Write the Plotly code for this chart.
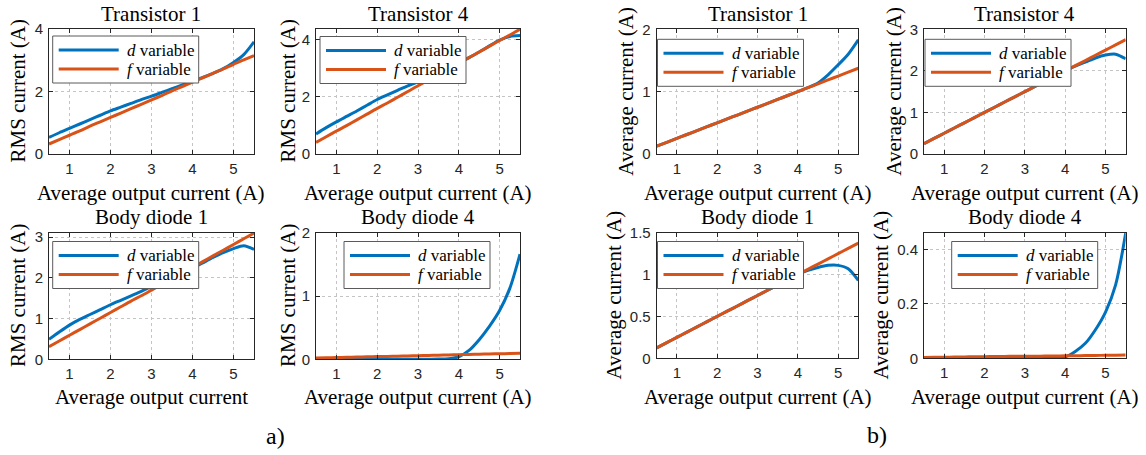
import plotly.graph_objects as go

W, H = 1146, 455

# ---------------- data ----------------
x_out = [0.5, 0.75, 1.0, 1.25, 1.5, 1.75, 2.0, 2.25, 2.5, 2.75, 3.0,
         3.25, 3.5, 3.75, 4.0, 4.25, 4.5, 4.75, 5.0, 5.25, 5.5]

# a) RMS currents
rms_t1_d = [0.53, 0.68, 0.82, 0.96, 1.10, 1.24, 1.38, 1.50, 1.62, 1.74, 1.85,
            1.97, 2.09, 2.21, 2.33, 2.45, 2.58, 2.73, 2.93, 3.18, 3.59]
rms_t1_f = [0.32, 0.46, 0.60, 0.74, 0.89, 1.03, 1.17, 1.31, 1.45, 1.59, 1.73,
            1.87, 2.02, 2.16, 2.30, 2.44, 2.58, 2.72, 2.87, 3.01, 3.15]
rms_t4_d = [0.70, 0.92, 1.12, 1.31, 1.50, 1.70, 1.90, 2.06, 2.22, 2.38, 2.52,
            2.64, 2.80, 2.98, 3.17, 3.36, 3.56, 3.77, 3.97, 4.10, 4.13]
rms_t4_f = [0.40, 0.60, 0.80, 0.99, 1.19, 1.39, 1.59, 1.78, 1.98, 2.18, 2.38,
            2.57, 2.77, 2.97, 3.17, 3.36, 3.56, 3.76, 3.96, 4.15, 4.35]
rms_bd1_d = [0.49, 0.67, 0.84, 0.98, 1.10, 1.22, 1.34, 1.45, 1.56, 1.67, 1.79,
             1.90, 2.02, 2.13, 2.24, 2.37, 2.50, 2.62, 2.72, 2.79, 2.70]
rms_bd1_f = [0.31, 0.45, 0.59, 0.73, 0.87, 1.01, 1.15, 1.29, 1.43, 1.56, 1.70,
             1.84, 1.98, 2.12, 2.26, 2.40, 2.54, 2.68, 2.82, 2.96, 3.10]
rms_bd4_d = [0.002, 0.002, 0.002, 0.002, 0.002, 0.002, 0.002, 0.002, 0.002, 0.002, 0.002,
             0.002, 0.003, 0.010, 0.040, 0.140, 0.310, 0.520, 0.770, 1.120, 1.660]
rms_bd4_f = [0.020, 0.024, 0.028, 0.031, 0.035, 0.039, 0.043, 0.046, 0.050, 0.054, 0.058,
             0.061, 0.065, 0.069, 0.073, 0.076, 0.080, 0.084, 0.088, 0.091, 0.095]

# b) average currents
avg_t1_d = [0.125, 0.188, 0.250, 0.313, 0.375, 0.438, 0.500, 0.563, 0.625, 0.688, 0.750,
            0.813, 0.875, 0.938, 1.000, 1.065, 1.140, 1.270, 1.430, 1.600, 1.830]
avg_t1_f = [0.125, 0.188, 0.250, 0.313, 0.375, 0.438, 0.500, 0.563, 0.625, 0.688, 0.750,
            0.813, 0.875, 0.938, 1.000, 1.063, 1.125, 1.188, 1.250, 1.313, 1.375]
avg_t4_d = [0.250, 0.375, 0.500, 0.625, 0.750, 0.875, 1.000, 1.125, 1.250, 1.375, 1.500,
            1.625, 1.750, 1.875, 2.000, 2.115, 2.210, 2.310, 2.380, 2.400, 2.290]
avg_t4_f = [0.250, 0.375, 0.500, 0.625, 0.750, 0.875, 1.000, 1.125, 1.250, 1.375, 1.500,
            1.625, 1.750, 1.875, 2.000, 2.125, 2.250, 2.375, 2.500, 2.625, 2.750]
avg_bd1_d = [0.125, 0.188, 0.250, 0.313, 0.375, 0.438, 0.500, 0.563, 0.625, 0.688, 0.750,
             0.813, 0.875, 0.938, 1.000, 1.050, 1.085, 1.110, 1.110, 1.070, 0.930]
avg_bd1_f = [0.125, 0.188, 0.250, 0.313, 0.375, 0.438, 0.500, 0.563, 0.625, 0.688, 0.750,
             0.813, 0.875, 0.938, 1.000, 1.063, 1.125, 1.188, 1.250, 1.313, 1.375]
avg_bd4_d = [0.0005, 0.0005, 0.0005, 0.0005, 0.0005, 0.0005, 0.0005, 0.0005, 0.0005, 0.0005, 0.0005,
             0.0005, 0.0007, 0.0015, 0.005, 0.025, 0.055, 0.105, 0.170, 0.270, 0.460]
avg_bd4_f = [0.003, 0.0035, 0.004, 0.0045, 0.005, 0.0055, 0.006, 0.0065, 0.007, 0.0075, 0.0076,
             0.0078, 0.008, 0.0085, 0.009, 0.0095, 0.010, 0.0105, 0.011, 0.0115, 0.012]

x_ticks = [1, 2, 3, 4, 5]
series_names = ["<i>d</i> variable", "<i>f</i> variable"]
group_labels = ["a)", "b)"]

# ---------------- styling ----------------
BLUE = "#0072BD"
ORANGE = "#D95319"
AXC = "#262626"
GRIDC = "#c4c4c4"
SERIF = '"Liberation Serif", "DejaVu Serif", serif'
SANS = '"Liberation Sans", Arial, sans-serif'


def px_x(v):
    return v / W


def px_y(v):
    return 1 - v / H


panels = [
    dict(title="Transistor 1", ylabel="RMS current (A)", xlabel="Average output current (A)",
         d=rms_t1_d, f=rms_t1_f, yr=[0, 4], yt=[0, 2, 4],
         xd=[49, 254], yd=[29, 154], leg=(52.7, 36), ylx=18),
    dict(title="Transistor 4", ylabel="RMS current (A)", xlabel="Average output current (A)",
         d=rms_t4_d, f=rms_t4_f, yr=[0, 4.36], yt=[0, 2, 4],
         xd=[316, 520], yd=[29, 154], leg=(320, 36.5), ylx=288),
    dict(title="Body diode 1", ylabel="RMS current (A)", xlabel="Average output current",
         d=rms_bd1_d, f=rms_bd1_f, yr=[0, 3.11], yt=[0, 1, 2, 3],
         xd=[49, 254], yd=[232.7, 359.3], leg=(52.7, 241.5), ylx=18),
    dict(title="Body diode 4", ylabel="RMS current (A)", xlabel="Average output current (A)",
         d=rms_bd4_d, f=rms_bd4_f, yr=[0, 2], yt=[0, 1, 2],
         xd=[316, 520], yd=[232.7, 359.3], leg=(344, 241.5), ylx=288),
    dict(title="Transistor 1", ylabel="Average current (A)", xlabel="Average output current (A)",
         d=avg_t1_d, f=avg_t1_f, yr=[0, 2], yt=[0, 1, 2],
         xd=[656.7, 858.3], yd=[29.3, 154], leg=(657.5, 39.3), ylx=626),
    dict(title="Transistor 4", ylabel="Average current (A)", xlabel="Average output current (A)",
         d=avg_t4_d, f=avg_t4_f, yr=[0, 3], yt=[0, 1, 2, 3],
         xd=[924, 1125.7], yd=[29.3, 154], leg=(925, 39.3), ylx=894),
    dict(title="Body diode 1", ylabel="Average current (A)", xlabel="Average output current (A)",
         d=avg_bd1_d, f=avg_bd1_f, yr=[0, 1.5], yt=[0, 0.5, 1, 1.5],
         xd=[656.7, 858.3], yd=[232.7, 358.3], leg=(657.5, 241.5), ylx=613),
    dict(title="Body diode 4", ylabel="Average current (A)", xlabel="Average output current (A)",
         d=avg_bd4_d, f=avg_bd4_f, yr=[0, 0.4615], yt=[0, 0.2, 0.4],
         xd=[924, 1125.7], yd=[232.7, 358.3], leg=(951.7, 241.5), ylx=880),
]

fig = go.Figure()
layout = dict(
    width=W, height=H,
    margin=dict(l=0, r=0, t=0, b=0),
    paper_bgcolor="white", plot_bgcolor="white",
    showlegend=False,
)
annotations = []
shapes = []

for i, p in enumerate(panels, start=1):
    xa = "x" if i == 1 else f"x{i}"
    ya = "y" if i == 1 else f"y{i}"
    fig.add_trace(go.Scatter(x=x_out, y=p["d"], mode="lines", name=series_names[0],
                             line=dict(color=BLUE, width=3, shape="spline", smoothing=0.8),
                             xaxis=xa, yaxis=ya, cliponaxis=True))
    fig.add_trace(go.Scatter(x=x_out, y=p["f"], mode="lines", name=series_names[1],
                             line=dict(color=ORANGE, width=3, shape="spline", smoothing=0.8),
                             xaxis=xa, yaxis=ya, cliponaxis=True))

    common = dict(showline=True, mirror="ticks", linecolor=AXC, linewidth=1,
                  ticks="inside", ticklen=4, tickcolor=AXC, tickwidth=1,
                  showgrid=True, gridcolor=GRIDC, griddash="dot", gridwidth=1,
                  zeroline=False, automargin=False,
                  tickfont=dict(family=SANS, size=15, color=AXC))
    xkey = "xaxis" if i == 1 else f"xaxis{i}"
    ykey = "yaxis" if i == 1 else f"yaxis{i}"
    layout[xkey] = dict(domain=[px_x(p["xd"][0]), px_x(p["xd"][1])], range=[0.5, 5.5],
                        tickvals=x_ticks, anchor=ya, ticklabelstandoff=1, **common)
    layout[ykey] = dict(domain=[px_y(p["yd"][1]), px_y(p["yd"][0])], range=p["yr"],
                        tickvals=p["yt"], anchor=xa, ticklabelstandoff=2, **common)

    xc = (p["xd"][0] + p["xd"][1]) / 2
    yc = (p["yd"][0] + p["yd"][1]) / 2
    top_row = p["yd"][0] < 100
    # title
    annotations.append(dict(text=p["title"], x=px_x(xc), y=px_y(14 if top_row else 217),
                            xref="paper", yref="paper", showarrow=False,
                            xanchor="center", yanchor="middle",
                            font=dict(family=SERIF, size=21, color="black")))
    # x label
    annotations.append(dict(text=p["xlabel"], x=px_x(xc), y=px_y(193 if top_row else 397),
                            xref="paper", yref="paper", showarrow=False,
                            xanchor="center", yanchor="middle",
                            font=dict(family=SERIF, size=21, color="black")))
    # y label
    annotations.append(dict(text=p["ylabel"], x=px_x(p["ylx"]), y=px_y(yc),
                            xref="paper", yref="paper", showarrow=False, textangle=-90,
                            xanchor="center", yanchor="middle",
                            font=dict(family=SERIF, size=21, color="black")))

    # legend box
    lx, ly = p["leg"]
    bw, bh = 146, 47
    shapes.append(dict(type="rect", xref="paper", yref="paper",
                       x0=px_x(lx), x1=px_x(lx + bw), y0=px_y(ly + bh), y1=px_y(ly),
                       line=dict(color="#5a5a5a", width=1), fillcolor="white", layer="above"))
    for k, (col, nm) in enumerate([(BLUE, series_names[0]), (ORANGE, series_names[1])]):
        yy = ly + 14 + 19 * k
        shapes.append(dict(type="line", xref="paper", yref="paper",
                           x0=px_x(lx + 6), x1=px_x(lx + 66), y0=px_y(yy), y1=px_y(yy),
                           line=dict(color=col, width=3), layer="above"))
        annotations.append(dict(text=nm, x=px_x(lx + 72), y=px_y(yy),
                                xref="paper", yref="paper", showarrow=False,
                                xanchor="left", yanchor="middle",
                                font=dict(family=SERIF, size=17, color="black")))

annotations.append(dict(text=group_labels[0], x=px_x(275), y=px_y(436), xref="paper", yref="paper",
                        showarrow=False, xanchor="center", yanchor="middle",
                        font=dict(family=SERIF, size=24, color="black")))
annotations.append(dict(text=group_labels[1], x=px_x(877), y=px_y(435), xref="paper", yref="paper",
                        showarrow=False, xanchor="center", yanchor="middle",
                        font=dict(family=SERIF, size=24, color="black")))

layout["annotations"] = annotations
layout["shapes"] = shapes
fig.update_layout(**layout)

# remove the page's default body margin so the figure starts at the window's corner
fig.write_html("out.html",
               config={"displayModeBar": False},
               post_script="document.body.style.margin='0';document.body.style.padding='0';")
